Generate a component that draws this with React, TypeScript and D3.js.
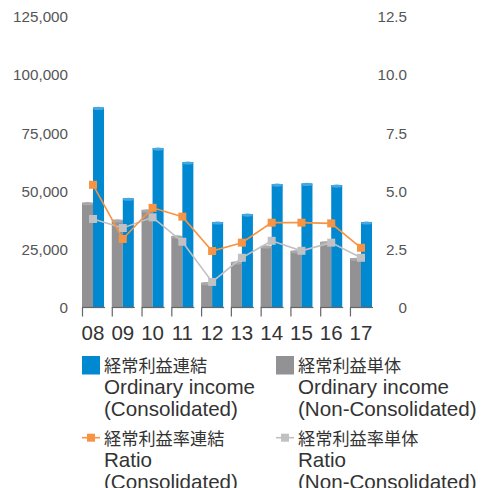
import React from 'react';
import * as d3 from 'd3';

const years = ['08', '09', '10', '11', '12', '13', '14', '15', '16', '17'];
const incomeConsolidated = [86100, 47000, 68600, 62600, 36800, 40200, 53100, 53400, 52700, 36800];
const incomeNonConsolidated = [45100, 37700, 42000, 30800, 10700, 19600, 26500, 24400, 28300, 21200];
const ratioConsolidated = [5.28, 2.95, 4.29, 3.91, 2.43, 2.79, 3.65, 3.65, 3.62, 2.57];
const ratioNonConsolidated = [3.81, 3.42, 3.88, 2.83, 1.1, 2.14, 2.87, 2.44, 2.79, 2.14];
const leftTicks = [0, 25000, 50000, 75000, 100000, 125000];
const rightTicks = [0, 2.5, 5, 7.5, 10, 12.5];

const legendItems = [
  { jp: '経常利益連結', en1: 'Ordinary income', en2: '(Consolidated)', kind: 'bar', color: '#0088d0' },
  { jp: '経常利益単体', en1: 'Ordinary income', en2: '(Non-Consolidated)', kind: 'bar', color: '#929295' },
  { jp: '経常利益率連結', en1: 'Ratio', en2: '(Consolidated)', kind: 'line', color: '#f79443' },
  { jp: '経常利益率単体', en1: 'Ratio', en2: '(Non-Consolidated)', kind: 'line', color: '#c1c1c3' },
];

const BLUE = '#0088d0';
const BLUE_TOP = '#45a8e0';
const GRAY = '#929295';
const GRAY_TOP = '#a9a9ab';
const ORANGE = '#f79443';
const LGRAY = '#c1c1c3';
const FONT = '"Liberation Sans", Arial, Helvetica, sans-serif';
const JFONT = '"Noto Sans CJK JP", "Noto Sans", sans-serif';

export default function App() {
  const W = 483;
  const H = 488;
  const x = d3.scaleBand<string>().domain(years).range([82, 372]).paddingInner(0.26).paddingOuter(0);
  const yL = d3.scaleLinear().domain([0, 125000]).range([307.5, 17]);
  const yR = d3.scaleLinear().domain([0, 12.5]).range([307.5, 17]);
  const bw = x.bandwidth();
  const half = bw / 2;
  const fmtL = d3.format(',');
  const fmtR = (v: number) => (v === 0 ? '0' : d3.format('.1f')(v));

  const ratioLine = d3
    .line<number>()
    .x((_, i) => (x(years[i]) as number) + half)
    .y((d) => yR(d));

  const base = yL(0);

  return (
    <svg width={W} height={H} style={{ position: 'absolute', left: 0, top: 0 }}>
      <rect width={W} height={H} fill="#fff" />
      {leftTicks.map((t) => (
        <text key={'l' + t} x={68} y={yL(t)} dy="0.35em" textAnchor="end" fontFamily={FONT} fontSize={15.2} fill="#555">
          {fmtL(t)}
        </text>
      ))}
      {rightTicks.map((t) => (
        <text key={'r' + t} x={407} y={yR(t)} dy="0.35em" textAnchor="end" fontFamily={FONT} fontSize={15.2} fill="#555">
          {fmtR(t)}
        </text>
      ))}
      {years.map((yr, i) => {
        const x0 = x(yr) as number;
        const gTop = yL(incomeNonConsolidated[i]);
        const bTop = yL(incomeConsolidated[i]);
        return (
          <g key={yr}>
            <rect x={x0} y={gTop} width={half} height={base - gTop} fill={GRAY} />
            <ellipse cx={x0 + half / 2} cy={gTop + 1} rx={half / 2} ry={1.6} fill={GRAY_TOP} />
            <rect x={x0 + half} y={bTop} width={half} height={base - bTop} fill={BLUE} />
            <ellipse cx={x0 + half * 1.5} cy={bTop + 1} rx={half / 2} ry={1.6} fill={BLUE_TOP} />
          </g>
        );
      })}
      {years.map((yr) => {
        const x0 = x(yr) as number;
        return (
          <g key={'ax' + yr} stroke="#666" strokeWidth={1.2} fill="none">
            <line x1={x0} x2={x0 + bw + 1} y1={base} y2={base} />
            <line x1={x0 + 0.5} x2={x0 + 0.5} y1={base} y2={base + 9} />
          </g>
        );
      })}
      {years.map((yr) => (
        <text key={'xl' + yr} x={(x(yr) as number) + half} y={340} textAnchor="middle" fontFamily={FONT} fontSize={20.5} fill="#333">
          {yr}
        </text>
      ))}
      <path d={ratioLine(ratioNonConsolidated) || ''} fill="none" stroke={LGRAY} strokeWidth={1.6} />
      {ratioNonConsolidated.map((v, i) => (
        <rect key={'mg' + i} x={(x(years[i]) as number) + half - 4} y={yR(v) - 4} width={8} height={8} fill={LGRAY} />
      ))}
      <path d={ratioLine(ratioConsolidated) || ''} fill="none" stroke={ORANGE} strokeWidth={1.6} />
      {ratioConsolidated.map((v, i) => (
        <rect key={'mo' + i} x={(x(years[i]) as number) + half - 4} y={yR(v) - 4} width={8} height={8} fill={ORANGE} />
      ))}
      {legendItems.map((it, i) => {
        const col = i % 2;
        const row = Math.floor(i / 2);
        const lx = col === 0 ? 82 : 276;
        const tx = lx + 22;
        const by = row === 0 ? 372 : 445;
        return (
          <g key={'lg' + i}>
            {it.kind === 'bar' ? (
              <rect x={lx} y={356} width={18} height={18.5} fill={it.color} />
            ) : (
              <g>
                <line x1={lx} x2={lx + 18} y1={437.7} y2={437.7} stroke={it.color} strokeWidth={1.6} />
                <rect x={lx + 5} y={433.7} width={8} height={8} fill={it.color} />
              </g>
            )}
            <text x={tx} y={by} fontFamily={JFONT} fontSize={17.2} fill="#333">
              {it.jp}
            </text>
            <text x={tx} y={by + 22} fontFamily={FONT} fontSize={20.6} fill="#333">
              {it.en1}
            </text>
            <text x={tx} y={by + 44} fontFamily={FONT} fontSize={20.6} fill="#333">
              {it.en2}
            </text>
          </g>
        );
      })}
    </svg>
  );
}
